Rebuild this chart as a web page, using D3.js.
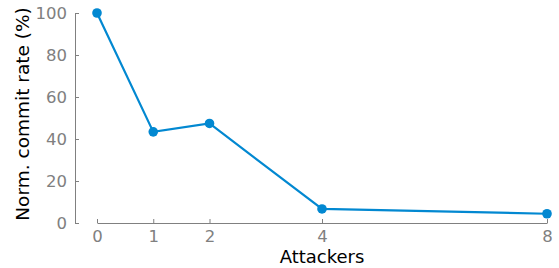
<!DOCTYPE html>
<html>
<head>
<meta charset="utf-8">
<script src="https://cdn.jsdelivr.net/npm/d3@7"></script>
<style>
  body { margin: 0; background: #fff; }
  svg text { font-family: "DejaVu Sans", sans-serif; }
</style>
</head>
<body>
<div id="chart"></div>
<script>
// datos
var attackers = [0, 1, 2, 4, 8];
var commitRate = [100, 43.4, 47.4, 6.7, 4.4];
var yTicks = [0, 20, 40, 60, 80, 100];

var width = 559, height = 268;
var color = "#0288d1", grey = "#808080";

var svg = d3.select("#chart").append("svg")
  .attr("width", width)
  .attr("height", height);

var x = d3.scaleLinear().domain([0, 8]).range([97, 547]);
var y = d3.scaleLinear().domain([0, 100]).range([223, 13]);

// eje y (separado del eje x)
var yAxis = svg.append("g")
  .attr("transform", "translate(75,0)")
  .call(d3.axisLeft(y).tickValues(yTicks).tickSizeInner(-4).tickSizeOuter(0).tickPadding(8));

// eje x
var xAxis = svg.append("g")
  .attr("transform", "translate(0,223)")
  .call(d3.axisBottom(x).tickValues(attackers).tickSizeInner(-4).tickSizeOuter(0).tickPadding(6));

[yAxis, xAxis].forEach(function(g){
  g.select(".domain").attr("stroke", grey).attr("stroke-width", 1);
  g.selectAll(".tick line").attr("stroke", grey).attr("stroke-width", 1);
  g.selectAll(".tick text")
    .attr("fill", grey)
    .style("font-size", "16.5px");
});
xAxis.selectAll(".tick text").attr("dy", "0.76em");

// linea y puntos
var line = d3.line()
  .x(function(d, i){ return x(attackers[i]); })
  .y(function(d){ return y(d); });

svg.append("path")
  .datum(commitRate)
  .attr("d", line)
  .attr("fill", "none")
  .attr("stroke", color)
  .attr("stroke-width", 2.2);

svg.selectAll("circle")
  .data(commitRate)
  .enter()
  .append("circle")
  .attr("cx", function(d, i){ return x(attackers[i]); })
  .attr("cy", function(d){ return y(d); })
  .attr("r", 4.8)
  .attr("fill", color);

// titulos de ejes
svg.append("text")
  .attr("x", 322)
  .attr("y", 263)
  .attr("text-anchor", "middle")
  .style("font-size", "18px")
  .attr("fill", "#000")
  .text("Attackers");

svg.append("text")
  .attr("transform", "translate(29,114) rotate(-90)")
  .attr("text-anchor", "middle")
  .style("font-size", "18.5px")
  .attr("fill", "#000")
  .text("Norm. commit rate (%)");
</script>
</body>
</html>
